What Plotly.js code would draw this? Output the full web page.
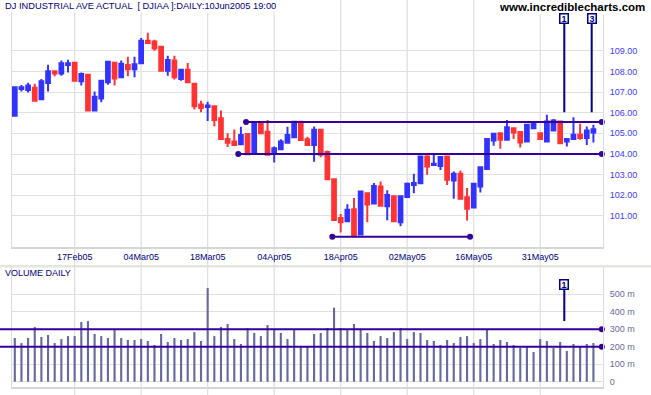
<!DOCTYPE html>
<html><head><meta charset="utf-8">
<script src="https://cdn.plot.ly/plotly-3.0.1.min.js"></script>
<style>html,body{margin:0;padding:0;background:#fff}#chart{width:651px;height:395px}</style>
</head><body><div id="chart"></div>
<script>
// ---- data (DJIA / 100, daily) ----
const dates = [
 '2005-02-04','2005-02-07','2005-02-08','2005-02-09','2005-02-10','2005-02-11','2005-02-14','2005-02-15','2005-02-16','2005-02-17',
 '2005-02-18','2005-02-22','2005-02-23','2005-02-24','2005-02-25','2005-02-28','2005-03-01','2005-03-02','2005-03-03','2005-03-04',
 '2005-03-07','2005-03-08','2005-03-09','2005-03-10','2005-03-11','2005-03-14','2005-03-15','2005-03-16','2005-03-17','2005-03-18',
 '2005-03-21','2005-03-22','2005-03-23','2005-03-24','2005-03-28','2005-03-29','2005-03-30','2005-03-31','2005-04-01','2005-04-04',
 '2005-04-05','2005-04-06','2005-04-07','2005-04-08','2005-04-11','2005-04-12','2005-04-13','2005-04-14','2005-04-15','2005-04-18',
 '2005-04-19','2005-04-20','2005-04-21','2005-04-22','2005-04-25','2005-04-26','2005-04-27','2005-04-28','2005-04-29','2005-05-02',
 '2005-05-03','2005-05-04','2005-05-05','2005-05-06','2005-05-09','2005-05-10','2005-05-11','2005-05-12','2005-05-13','2005-05-16',
 '2005-05-17','2005-05-18','2005-05-19','2005-05-20','2005-05-23','2005-05-24','2005-05-25','2005-05-26','2005-05-27','2005-05-31',
 '2005-06-01','2005-06-02','2005-06-03','2005-06-06','2005-06-07','2005-06-08','2005-06-09','2005-06-10'];
const open = [105.85,107.15,107.10,107.21,106.65,107.44,108.00,107.90,108.31,108.42,
 107.52,107.84,106.10,106.69,107.47,108.42,107.71,108.31,108.10,108.39,
 109.48,109.44,109.19,108.03,108.53,107.63,108.08,107.40,106.39,106.27,
 106.31,105.73,104.73,104.60,104.47,104.97,104.04,105.45,105.08,104.04,
 104.23,104.55,104.81,105.56,104.71,104.44,105.17,104.10,102.78,100.90,
 100.74,101.33,100.10,102.10,101.60,102.43,101.47,101.95,100.70,101.92,
 102.50,102.58,103.88,103.47,103.42,103.88,102.72,103.04,101.91,101.41,
 102.43,103.27,104.65,105.00,104.69,105.25,105.06,104.60,105.25,105.00,
 104.60,105.14,105.57,104.60,104.72,104.93,104.77,105.04];
const high = [107.26,107.34,107.45,107.40,107.63,108.32,108.00,108.52,108.56,108.42,
 107.94,107.84,107.02,107.55,108.47,108.42,108.52,108.71,108.71,109.61,
 109.87,109.53,109.24,108.76,108.76,108.08,108.40,107.40,106.58,106.53,
 106.31,106.10,105.00,105.19,105.32,104.97,105.45,105.45,105.65,104.36,
 104.71,105.32,105.58,105.56,104.84,105.33,105.17,104.17,102.78,101.10,
 101.57,101.87,102.19,102.10,102.60,102.67,102.24,101.95,101.97,102.62,
 103.04,103.90,104.04,104.04,103.88,103.88,103.15,103.20,102.35,102.56,
 103.36,104.77,105.00,105.02,105.65,105.25,105.06,105.44,105.55,105.00,
 105.90,105.69,105.57,104.76,105.78,105.46,105.33,105.41];
const low = [105.85,107.03,106.98,106.58,106.65,107.03,107.76,107.79,107.95,107.55,
 107.31,106.10,106.10,106.50,107.35,107.31,107.71,107.76,107.71,108.39,
 109.37,109.00,108.03,107.79,107.60,107.55,107.47,106.15,106.02,105.60,
 105.34,104.73,104.34,104.44,104.47,103.99,104.04,104.95,103.96,103.59,
 104.23,104.55,104.81,104.68,104.39,103.63,103.84,102.78,100.78,100.20,
 100.74,100.02,100.10,100.70,101.60,101.50,100.79,100.74,100.50,101.92,
 102.10,102.58,103.00,103.47,103.23,102.50,101.83,101.83,100.78,101.41,
 102.14,103.27,104.40,104.25,104.69,104.73,104.31,104.60,105.25,104.69,
 104.60,105.14,104.52,104.36,104.72,104.69,104.44,104.56];
const close = [107.23,107.23,107.31,106.58,107.52,108.00,107.90,108.39,108.39,107.55,
 107.87,106.10,106.77,107.55,108.47,107.66,108.37,108.10,108.35,109.48,
 109.37,109.11,108.03,108.55,107.71,108.08,107.47,106.31,106.23,106.35,
 105.65,104.73,104.55,104.44,104.92,103.99,105.45,105.00,103.96,104.28,
 104.60,104.92,105.56,104.68,104.44,105.17,103.96,102.78,100.81,100.70,
 101.30,100.05,102.19,101.55,102.45,101.50,102.02,100.74,101.96,102.56,
 102.60,103.88,103.39,103.53,103.86,102.75,103.04,101.83,101.35,102.56,
 103.36,104.72,104.98,104.69,105.30,105.04,104.56,105.41,105.52,104.72,
 105.57,105.62,104.52,104.72,104.93,104.77,105.14,105.20];
const volume = [250,221,250,313,256,267,221,244,261,261,
 342,347,273,261,250,296,250,239,239,244,
 233,210,273,227,250,239,244,284,233,536,
 261,313,330,244,216,307,279,261,324,296,
 279,244,296,204,204,273,279,307,424,307,
 296,330,296,279,233,261,250,284,307,244,
 284,279,239,233,210,239,221,256,261,221,
 244,302,216,239,227,210,193,204,170,244,
 233,193,227,176,216,204,216,221]; // millions
const tickDates = ['2005-02-17','2005-03-04','2005-03-18','2005-04-04','2005-04-18','2005-05-02','2005-05-16','2005-05-31'];
const tickLabels = ['17Feb05','04Mar05','18Mar05','04Apr05','18Apr05','02May05','16May05','31May05'];
const priceTicks = [101,102,103,104,105,106,107,108,109];
const volTicks = [0,100,200,300,400,500];
// drawn trend lines (price level, start/end position in trading-day units)
const levelValues = [105.55, 104.0, 100.0];
const levelStarts = [34.77, 33.6, 47.74];
const levelEnds = [88.26, 88.26, 68.45];
const volLevelValues = [300, 200];
const volLevelEnd = 88.26;
// numbered markers
const markerPos = [82.62, 86.74];
const markerText = ['1', '3'];

// ---- layout ----
const W = 651, H = 395, ML = 12, MR = 48, MT = 0, MB = 8;
const plotH = H - MT - MB;
const xRange = [-0.42, 88.44];
const priceRange = [99.513, 111.454];
const volRange = [-30.3, 656.5];
const priceDomain = [1 - 246.7 / plotH, 1];
const volDomain = [0, 1 - 267 / plotH];
const idx = dates.map((d, i) => i);
const fx = v => (v - xRange[0]) / (xRange[1] - xRange[0]);
const fyVol = v => volDomain[0] + (v - volRange[0]) / (volRange[1] - volRange[0]) * (volDomain[1] - volDomain[0]);
const py = p => 1 - p / plotH;

const FONT = 'Liberation Sans, Arial, sans-serif';
const LINEC = '#330099';
const NAVY = '#000080';

const traces = [];
traces.push({
  type: 'candlestick', x: idx, open: open, high: high, low: low, close: close,
  xaxis: 'x', yaxis: 'y', whiskerwidth: 0,
  increasing: {line: {color: '#3333ff', width: 2}, fillcolor: '#3333ff'},
  decreasing: {line: {color: '#ff3333', width: 2}, fillcolor: '#ff3333'},
  hoverinfo: 'none', showlegend: false
});
traces.push({
  type: 'bar', x: idx, y: volume, xaxis: 'x2', yaxis: 'y2', width: 0.32,
  marker: {color: '#6868a0', line: {width: 0}}, hoverinfo: 'none', showlegend: false
});
levelValues.forEach((v, k) => {
  traces.push({
    type: 'scatter', mode: 'lines+markers', x: [levelStarts[k], levelEnds[k]], y: [v, v],
    xaxis: 'x', yaxis: 'y', line: {color: LINEC, width: 2}, marker: {color: LINEC, size: 6},
    cliponaxis: false, hoverinfo: 'none', showlegend: false
  });
});
traces.push({
  type: 'scatter', mode: 'markers', x: volLevelValues.map(() => volLevelEnd), y: volLevelValues,
  xaxis: 'x2', yaxis: 'y2', marker: {color: LINEC, size: 6}, cliponaxis: false,
  hoverinfo: 'none', showlegend: false
});

const shapes = [];
shapes.push({type: 'rect', xref: 'paper', yref: 'paper', x0: -0.03, x1: 1.09, y0: py(267.5), y1: py(265),
  fillcolor: '#e6e6dc', line: {width: 0}, layer: 'below'});
tickDates.forEach(d => {
  const i = dates.indexOf(d);
  shapes.push({type: 'line', xref: 'x domain', yref: 'paper', x0: fx(i), x1: fx(i), y0: -MB / plotH, y1: 1,
    line: {color: '#dedede', width: 1.2}, layer: 'below'});
});
volLevelValues.forEach(v => {
  shapes.push({type: 'line', xref: 'x domain', yref: 'paper', x0: -ML / (W - ML - MR), x1: fx(volLevelEnd),
    y0: fyVol(v), y1: fyVol(v), line: {color: LINEC, width: 2}, layer: 'above'});
});

const annotations = [];
annotations.push({xref: 'paper', yref: 'paper', x: -9 / (W - ML - MR), y: py(6), xanchor: 'left', yanchor: 'middle',
  text: 'DJ INDUSTRIAL AVE ACTUAL \u00a0[ DJIAA ]:DAILY:10Jun2005 19:00', showarrow: false,
  font: {family: FONT, size: 9.3, color: NAVY}, bgcolor: '#ffffff', borderpad: 1});
annotations.push({xref: 'paper', yref: 'paper', x: (571.5 - ML) / (W - ML - MR), y: py(7), xanchor: 'center', yanchor: 'middle',
  text: 'www.incrediblecharts.com', showarrow: false,
  font: {family: FONT, size: 11.5, color: '#000000', weight: 'bold'}, bgcolor: '#ffffff', borderpad: 1});
annotations.push({xref: 'paper', yref: 'paper', x: -9 / (W - ML - MR), y: py(272.7), xanchor: 'left', yanchor: 'middle',
  text: 'VOLUME DAILY', showarrow: false, font: {family: FONT, size: 9, color: NAVY}});
markerPos.forEach((p, k) => {
  annotations.push({xref: 'x', yref: 'y', x: p, y: 106.02, ax: 0, ay: -94, text: '<b>' + markerText[k] + '</b>',
    showarrow: true, arrowhead: 0, arrowwidth: 2, arrowcolor: NAVY, standoff: 0,
    font: {family: FONT, size: 9, color: NAVY}, bgcolor: '#ffffff', bordercolor: NAVY, borderwidth: 1.5, borderpad: 0,
    width: 7, height: 8});
});
annotations.push({xref: 'x2', yref: 'y2', x: markerPos[0], y: 347, ax: 0, ay: -36.5, text: '<b>' + markerText[0] + '</b>',
  showarrow: true, arrowhead: 0, arrowwidth: 2, arrowcolor: NAVY, standoff: 0,
  font: {family: FONT, size: 9, color: NAVY}, bgcolor: '#ffffff', bordercolor: NAVY, borderwidth: 1.5, borderpad: 0,
  width: 7, height: 8});

const gridC = '#e0e0e0';
const layout = {
  width: W, height: H, margin: {l: ML, r: MR, t: MT, b: MB},
  paper_bgcolor: '#ffffff', plot_bgcolor: 'rgba(0,0,0,0)', showlegend: false, hovermode: false,
  xaxis: {domain: [0, 1], range: xRange, anchor: 'y', rangeslider: {visible: false}, showgrid: false, zeroline: false,
    tickmode: 'array', tickvals: tickDates.map(d => dates.indexOf(d)), ticktext: tickLabels, ticks: '',
    tickfont: {family: FONT, size: 9, color: NAVY}, showline: true, linecolor: '#d6d6d6', linewidth: 2, fixedrange: true},
  yaxis: {domain: priceDomain, range: priceRange, side: 'right', anchor: 'x', tickmode: 'array', tickvals: priceTicks,
    ticktext: priceTicks.map(v => v.toFixed(2)), ticks: '', ticklabelstandoff: 4,
    tickfont: {family: FONT, size: 9, color: '#3c3cff'}, showgrid: true, gridcolor: gridC, gridwidth: 1, zeroline: false,
    showline: true, mirror: true, linecolor: '#dcdcdc', linewidth: 1, fixedrange: true},
  xaxis2: {domain: [0, 1], range: xRange, anchor: 'y2', showgrid: false, zeroline: false, showticklabels: false, ticks: '',
    showline: true, linecolor: '#d6d6d6', linewidth: 2, fixedrange: true},
  yaxis2: {domain: volDomain, range: volRange, side: 'right', anchor: 'x2', tickmode: 'array', tickvals: volTicks,
    ticktext: volTicks.map(v => v === 0 ? '0' : v + ' m'), ticks: '', ticklabelstandoff: 4,
    tickfont: {family: FONT, size: 9, color: '#6a6a9a'}, showgrid: true, gridcolor: gridC, gridwidth: 1, zeroline: false,
    showline: true, mirror: true, linecolor: '#dcdcdc', linewidth: 1, fixedrange: true},
  boxgap: 0.2,
  shapes: shapes, annotations: annotations
};
Plotly.newPlot('chart', traces, layout, {staticPlot: true, displayModeBar: false});
</script>
</body></html>
